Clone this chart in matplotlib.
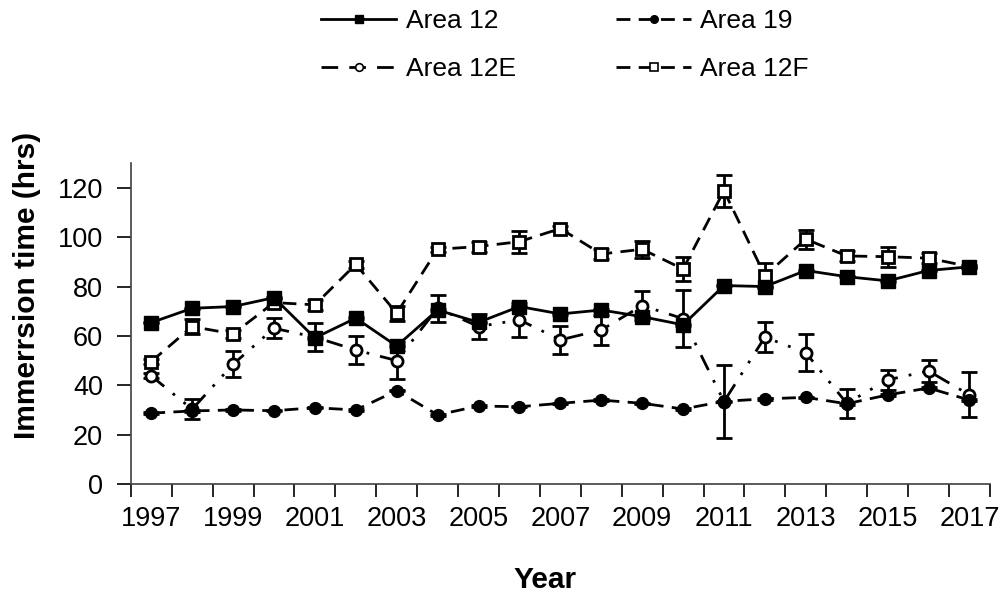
import matplotlib
matplotlib.use("Agg")
import matplotlib.pyplot as plt
from matplotlib.lines import Line2D
import numpy as np

plt.rcParams['font.family'] = ['Liberation Sans', 'DejaVu Sans']

years = np.arange(1997, 2018)

area12 = [65.4, 71.2, 71.9, 75.5, 59.2, 67.2, 55.9, 70.5, 65.5, 71.9, 68.9, 70.5,
          67.8, 64.5, 80.4, 80.0, 86.5, 84.0, 82.3, 86.5, 88.0]
area12_err = [0.3] * 21

area19 = [28.7, 29.6, 30.0, 29.7, 30.9, 30.0, 37.8, 28.0, 31.6, 31.3, 32.7, 34.0,
          32.7, 30.4, 33.5, 34.5, 35.1, 32.5, 36.1, 38.9, 34.0]
area19_err = [0.3] * 21

area12e = [43.8, 30.3, 48.5, 63.1, 59.5, 54.3, 50.0, 71.2, 63.8, 66.5, 58.4, 62.4,
           72.3, 67.0, 33.4, 59.5, 53.2, 32.7, 42.2, 45.8, 36.1]
area12e_err = [1, 4, 5.2, 4, 5.6, 5.5, 7.4, 5.5, 5.1, 6.8, 5.7, 6.1,
               6, 11.5, 14.7, 6.1, 7.4, 5.9, 4, 4.5, 9.1]

area12f = [49.6, 63.8, 60.8, 73.5, 72.6, 89.0, 69.2, 95.1, 96.2, 98.2, 103.5, 93.2,
           95.1, 87.1, 118.8, 84.4, 99.2, 92.4, 92.1, 91.5, 88.1]
area12f_err = [1, 3, 1.5, 1.5, 2, 1.5, 3, 1, 2, 4.5, 1, 2,
               3.4, 4.9, 6.4, 5, 3.8, 2, 4, 2, 0.5]

fig = plt.figure(figsize=(10.06, 6.02), dpi=100)
ax = fig.add_axes([0.130, 0.196, 0.854, 0.533])

lw = 2.0
ebkw = dict(capsize=6, elinewidth=2.0, capthick=2.0, ecolor='black')

ax.errorbar(years, area12f, yerr=area12f_err, color='black', lw=lw,
            linestyle=(0, (5, 3)), marker='s', ms=8.5, mfc='white', mec='black',
            mew=2, zorder=2, **ebkw)
ax.errorbar(years, area12e, yerr=area12e_err, color='black', lw=lw,
            linestyle=(0, (6, 4, 1, 4, 1, 4)), marker='o', ms=8, mfc='white',
            mec='black', mew=2, zorder=3, **ebkw)
ax.errorbar(years, area19, yerr=area19_err, color='black', lw=lw,
            linestyle=(0, (5, 3)), marker='o', ms=8.5, mfc='black', mec='black',
            zorder=4, **ebkw)
ax.errorbar(years, area12, yerr=area12_err, color='black', lw=lw,
            linestyle='-', marker='s', ms=9.5, mfc='black', mec='black',
            zorder=5, **ebkw)

ax.set_xlim(1996.5, 2017.5)
ax.set_ylim(0, 130)
ax.set_yticks(np.arange(0, 121, 20))

ax.set_xticks(np.arange(1996.5, 2018, 1))
ax.set_xticklabels([])
ax.set_xticks(years[::2], minor=True)
ax.set_xticklabels([str(y) for y in years[::2]], minor=True)
ax.tick_params(axis='x', which='major', length=9, width=1.2, direction='out')
ax.tick_params(axis='x', which='minor', length=0, labelsize=19.5, pad=16)
ax.tick_params(axis='y', length=10, width=1.2, labelsize=19.5, pad=10)

for s in ['top', 'right']:
    ax.spines[s].set_visible(False)
for s in ['left', 'bottom']:
    ax.spines[s].set_linewidth(1.2)
    ax.spines[s].set_color('#404040')

ax.set_xlabel('Year', fontsize=21.5, fontweight='bold')
ax.xaxis.set_label_coords(0.482, -0.255)
ax.set_ylabel('Immerrsion time (hrs)', fontsize=21.5, fontweight='bold')
ax.yaxis.set_label_coords(-0.104, 0.62)

# legend handles (Excel style: line through a small marker)
handles = [
    Line2D([], [], color='black', lw=2, ls='-', marker='s', ms=6, mfc='black'),
    Line2D([], [], color='black', lw=2, ls=(0, (5, 3)), marker='o', ms=5.5, mfc='black'),
    Line2D([], [], color='black', lw=2, ls=(0, (6, 4)), marker='o', ms=5.5, mfc='white', mew=1.2),
    Line2D([], [], color='black', lw=2, ls=(0, (5, 3)), marker='s', ms=6, mfc='white', mew=1.2),
]
labels = ['Area 12', 'Area 19', 'Area 12E', 'Area 12F']
# ncol=2 fills columns first, so reorder to rows: (12, 19), (12E, 12F)
fig.legend([handles[0], handles[2], handles[1], handles[3]],
           [labels[0], labels[2], labels[1], labels[3]], ncol=2,
           loc='upper center', bbox_to_anchor=(0.5616, 1.024), frameon=False,
           fontsize=19, handlelength=2.85, columnspacing=3.8,
           labelspacing=0.9, handletextpad=0.35)

fig.savefig('out.png', dpi=100)
